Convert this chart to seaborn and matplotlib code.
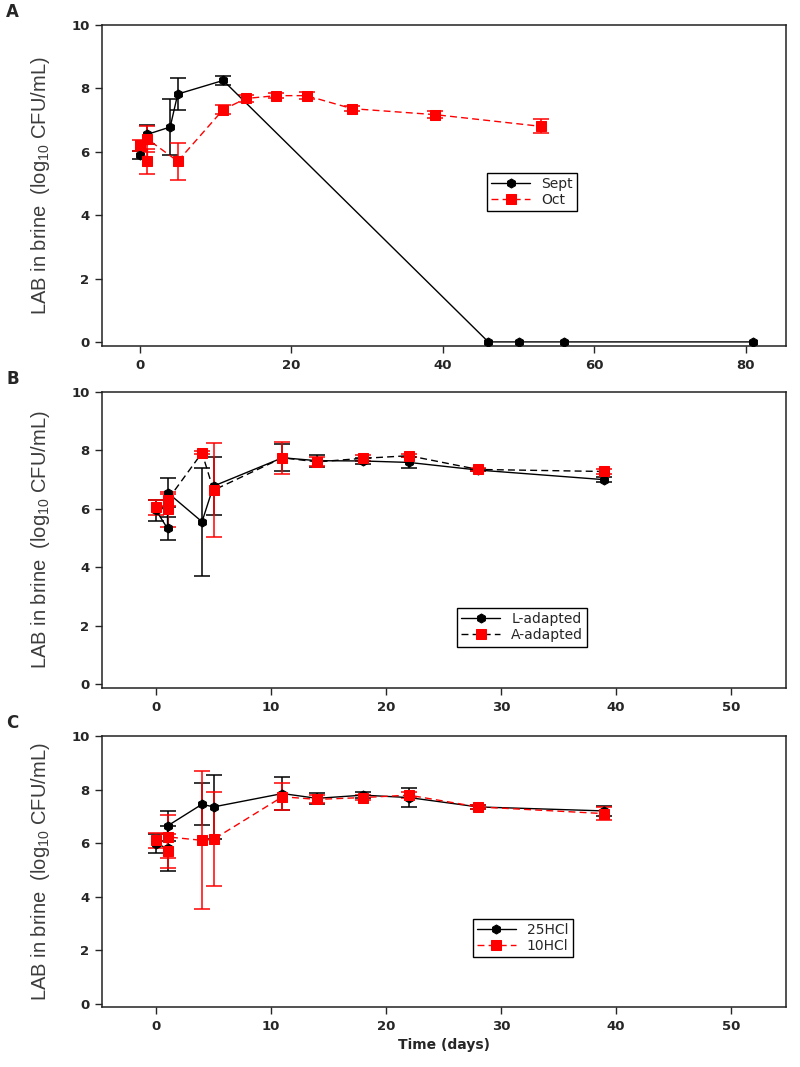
import numpy as np
import matplotlib
matplotlib.use("Agg")
import matplotlib.pyplot as plt
import seaborn as sns

# Panel A: harvest month
sept_day = [0, 1, 4, 5, 11, 46, 50, 56, 81]
sept_lab = [5.9, 6.55, 6.78, 7.82, 8.25, 0, 0, 0, 0]
sept_err = [0.12, 0.3, 0.88, 0.5, 0.15, 0, 0, 0, 0]
oct_day = [0, 1, 1, 5, 11, 14, 18, 22, 28, 39, 53]
oct_lab = [6.2, 5.7, 6.4, 5.7, 7.33, 7.68, 7.77, 7.77, 7.36, 7.17, 6.8]
oct_err = [0.18, 0.4, 0.4, 0.58, 0.15, 0.1, 0.08, 0.1, 0.08, 0.12, 0.22]

# Panel B: adaptation
ladp_day = [0, 1, 1, 4, 5, 11, 14, 18, 22, 28, 39]
ladp_lab = [5.95, 5.33, 6.56, 5.56, 6.78, 7.75, 7.65, 7.64, 7.59, 7.33, 7.0]
ladp_err = [0.35, 0.4, 0.5, 1.85, 1.0, 0.47, 0.2, 0.1, 0.2, 0.05, 0.08]
aadp_day = [0, 1, 1, 4, 5, 11, 14, 18, 22, 28, 39]
aadp_lab = [6.05, 5.98, 6.3, 7.92, 6.64, 7.75, 7.61, 7.73, 7.82, 7.35, 7.28]
aadp_err = [0.25, 0.6, 0.2, 0.05, 1.6, 0.55, 0.15, 0.1, 0.05, 0.05, 0.08]

# Panel C: acid
h25_day = [0, 1, 1, 4, 5, 11, 14, 18, 22, 28, 39]
h25_lab = [5.98, 5.8, 6.64, 7.45, 7.35, 7.85, 7.67, 7.79, 7.7, 7.35, 7.2]
h25_err = [0.35, 0.85, 0.55, 0.78, 1.2, 0.62, 0.2, 0.12, 0.35, 0.08, 0.2]
h10_day = [0, 1, 1, 4, 5, 11, 14, 18, 22, 28, 39]
h10_lab = [6.1, 5.7, 6.23, 6.1, 6.14, 7.73, 7.63, 7.7, 7.79, 7.35, 7.1]
h10_err = [0.27, 0.65, 0.8, 2.58, 1.75, 0.5, 0.15, 0.1, 0.1, 0.08, 0.25]

yticks = [0, 2, 4, 6, 8, 10]
ylabel = "LAB in brine  (log$_{10}$ CFU/mL)"

sns.set_style("ticks")
plt.rcParams['font.family'] = ['DejaVu Sans']
plt.rcParams['mathtext.default'] = 'regular'

RED = "#ff0000"

fig = plt.figure(figsize=(8, 10.67), dpi=100)
axA = fig.add_axes([0.1275, 0.6757, 0.855, 0.3009])
axB = fig.add_axes([0.1275, 0.3552, 0.855, 0.2774])
axC = fig.add_axes([0.1275, 0.0562, 0.855, 0.2540])


def series(ax, day, lab, err, label, lcolor, mcolor, marker, ls, ms):
    day = np.array(day, float)
    lab = np.array(lab, float)
    err = np.array(err, float)
    m = err > 0
    ax.errorbar(day[m], lab[m], yerr=err[m], fmt='none', ecolor=mcolor,
                elinewidth=1.1, capsize=6, capthick=1.1, zorder=2)
    sns.lineplot(x=day, y=lab, sort=False, estimator=None, ax=ax,
                 color=lcolor, linestyle=ls, linewidth=1, marker=marker,
                 markersize=ms, markerfacecolor=mcolor, markeredgecolor=mcolor,
                 label=label, zorder=3)


series(axA, sept_day, sept_lab, sept_err, "Sept", "black", "black", "h", "-", 6.5)
series(axA, oct_day, oct_lab, oct_err, "Oct", RED, RED, "s", (0, (5, 3)), 7)

series(axB, ladp_day, ladp_lab, ladp_err, "L-adapted", "black", "black", "h", "-", 6.5)
series(axB, aadp_day, aadp_lab, aadp_err, "A-adapted", "black", RED, "s", (0, (5, 3)), 7)

series(axC, h25_day, h25_lab, h25_err, "25HCl", "black", "black", "h", "-", 6.5)
series(axC, h10_day, h10_lab, h10_err, "10HCl", RED, RED, "s", (0, (5, 3)), 7)

axA.set_xlim(-5, 85.3)
axA.set_xticks([0, 20, 40, 60, 80])
for ax in (axB, axC):
    ax.set_xlim(-4.7, 54.8)
    ax.set_xticks([0, 10, 20, 30, 40, 50])

legend_pos = {axA: (0.563, 0.54), axB: (0.519, 0.27), axC: (0.542, 0.325)}
for ax, letter in zip((axA, axB, axC), "ABC"):
    ax.set_ylim(-0.13, 10)
    ax.set_yticks(yticks)
    for s in ax.spines.values():
        s.set_linewidth(1.1)
        s.set_color("#222222")
    ax.tick_params(direction='out', length=5, width=1, labelsize=9.5, pad=4)
    for t in ax.get_xticklabels() + ax.get_yticklabels():
        t.set_fontweight('bold')
    ax.set_xlabel("")
    ax.set_ylabel(ylabel, fontsize=14.5, color="#3c3c3c",
                  family=['Liberation Sans', 'DejaVu Sans'], labelpad=14)
    ax.legend(loc='upper left', bbox_to_anchor=legend_pos[ax], frameon=True,
              fancybox=False, edgecolor='black', framealpha=1, fontsize=10,
              handlelength=2.8, borderpad=0.3, labelspacing=0.15,
              handletextpad=0.8, borderaxespad=0)
    ax.legend_.get_frame().set_linewidth(1)
    bb = ax.get_position()
    fig.text(0.008, bb.y1 + 0.004, letter, fontsize=12, fontweight='bold',
             va='bottom', ha='left')

axC.set_xlabel("Time (days)", fontsize=10, fontweight='bold', labelpad=4)

fig.savefig("out.png", dpi=100)
